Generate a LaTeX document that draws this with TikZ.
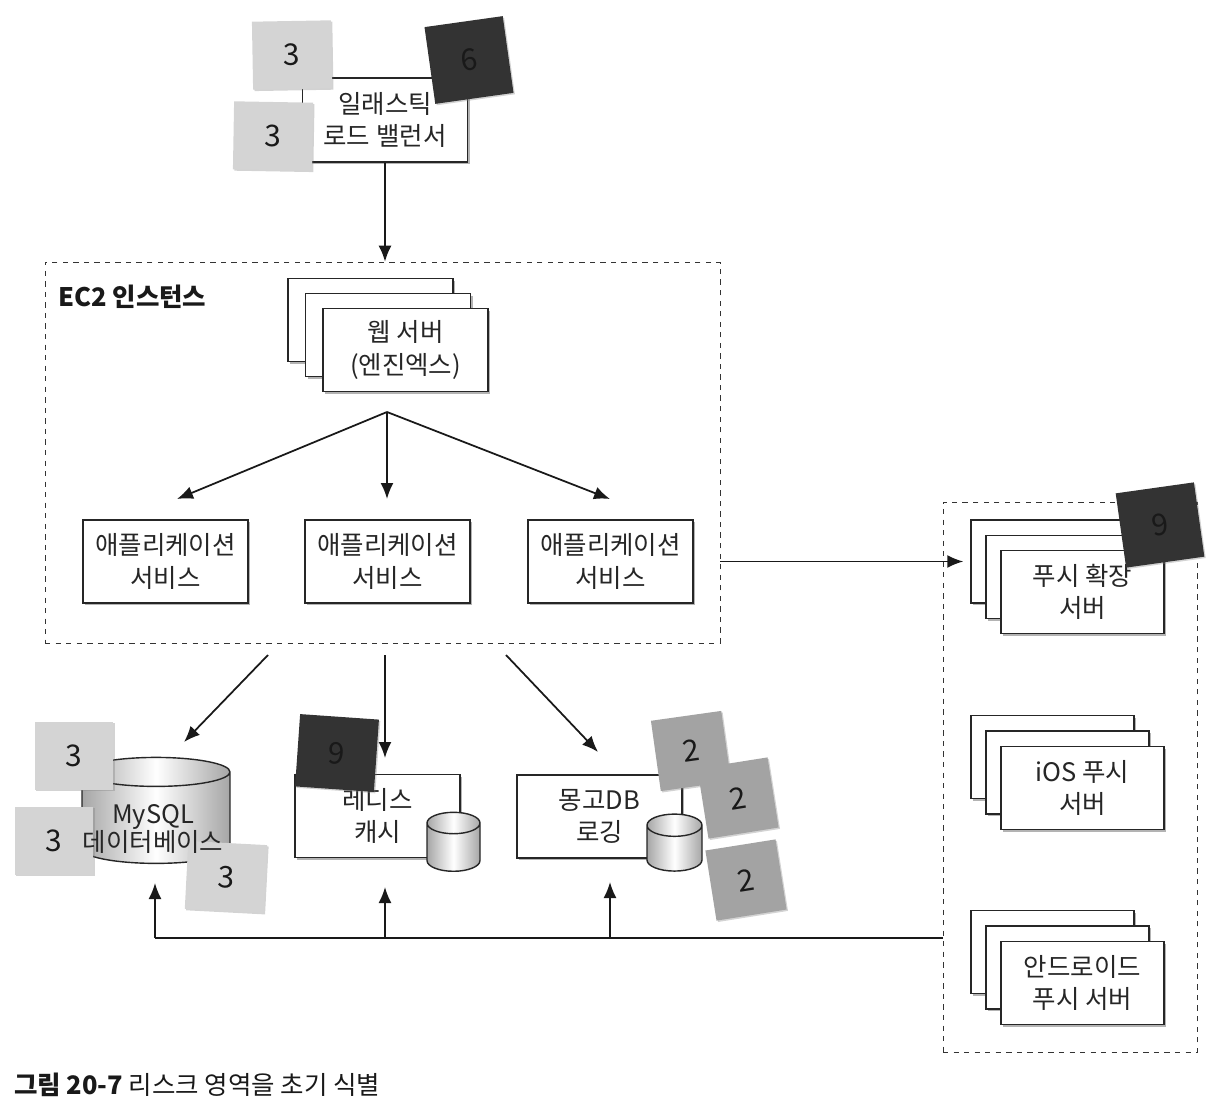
\documentclass[tikz,border=0pt]{standalone}
\usepackage{fontspec}
\setmainfont{Noto Sans CJK KR}
\usetikzlibrary{arrows.meta,shapes.geometric,shadows,positioning}

\tikzset{
  box/.style={draw=black!85, thick, fill=white, text=black!85, align=center,
    minimum width=3.3cm, minimum height=1.66cm, inner sep=1pt,
    font=\fontsize{14.5}{18.5}\selectfont,
    drop shadow={shadow xshift=1.2pt, shadow yshift=-1.2pt, opacity=.6}},
  group/.style={draw=black!80, dashed, thin},
  note/.style={minimum width=1.58cm, minimum height=1.36cm, inner sep=0pt,
    font=\fontsize{17}{17}\selectfont, text=black!90,
    drop shadow={shadow xshift=.8pt, shadow yshift=-.8pt, opacity=.35}},
  lightnote/.style={note, fill=black!17},
  midnote/.style={note, fill=black!36},
  darknote/.style={note, fill=black!80},
  db/.style={cylinder, shape border rotate=90, draw=black!85, thick,
    left color=black!35, right color=black!35, middle color=white,
    inner sep=0pt},
  flow/.style={-{Latex[length=3.2mm,width=2.6mm]}, line width=1pt, draw=black!90},
}

\begin{document}
\begin{tikzpicture}[x=0.02cm, y=-0.02cm]
  \useasboundingbox (0,0) rectangle (1220,1104);

  % Load balancer
  \node[box, minimum height=1.68cm] (elb) at (385,120) {일래스틱\\로드 밸런서};
  \node[lightnote, rotate=1] (elbA) at (292,55) {3};
  \node[lightnote, rotate=-1] (elbB) at (273,136) {3};
  \node[darknote, rotate=8, minimum height=1.55cm] (elbC) at (469,60) {6};

  % EC2 group
  \node[group, minimum width=13.5cm, minimum height=7.62cm] (ec2) at (382.5,452.5) {};
  \node[anchor=west, font=\fontsize{14.5}{17}\selectfont\bfseries, text=black!90] (ec2lbl) at (52,297) {EC2 인스턴스};

  % Web servers
  \node[box] (web3) at (370.5,320) {};
  \node[box] (web2) at (388,335) {};
  \node[box] (web) at (405.5,350) {웹 서버\\(엔진엑스)};

  % Application services
  \node[box] (app1) at (165.5,561.5) {애플리케이션\\서비스};
  \node[box] (app2) at (387.5,561.5) {애플리케이션\\서비스};
  \node[box] (app3) at (610.5,561.5) {애플리케이션\\서비스};

  \coordinate (fork) at (387,412);
  \coordinate (toA1) at (177,499);
  \coordinate (toA2) at (387,499);
  \coordinate (toA3) at (610,499);
  \draw[flow] (fork) -- (toA1);
  \draw[flow] (fork) -- (toA2);
  \draw[flow] (fork) -- (toA3);
  \draw[flow] (elb) -- (elb |- ec2.north);

  % Data stores
  \node[db, minimum width=2.96cm, minimum height=2.12cm, aspect=0.2] (mysql) at (156,818) {\hspace*{2.9cm}};
  \node[box] (redis) at (377.5,816) {레디스\\캐시};
  \node[db, minimum width=1.06cm, minimum height=1.18cm, aspect=0.42] (rcyl) at (453.5,847.5) {\hspace*{1.02cm}};
  \node[box] (mongo) at (599.5,816.5) {몽고DB\\로깅};
  \node[db, minimum width=1.1cm, minimum height=1.14cm, aspect=0.42] (mcyl) at (674.5,848.5) {\hspace*{1.06cm}};

  \node[lightnote] (sqlA) at (74,756) {3};
  \node[lightnote] (sqlB) at (54,841) {3};
  \node[lightnote, rotate=-3] (sqlC) at (226,877) {3};
  \node[align=center, text=black!85, font=\fontsize{14.5}{16.5}\selectfont] (sqltxt) at (153,829) {MySQL\\데이터베이스};
  \node[darknote, rotate=-4, minimum height=1.45cm] (redA) at (337,753) {9};
  \node[midnote, rotate=8, minimum height=1.42cm, minimum width=1.42cm] (monA) at (691,751) {2};
  \node[midnote, rotate=9, minimum height=1.42cm, minimum width=1.42cm] (monB) at (738,798) {2};
  \node[midnote, rotate=9, minimum height=1.42cm, minimum width=1.42cm] (monC) at (746,880) {2};

  \coordinate (outA) at (268,655);
  \coordinate (outB) at (385,655);
  \coordinate (outC) at (506,655);
  \coordinate (inA) at (184,742);
  \coordinate (inB) at (385,758);
  \coordinate (inC) at (598,752);
  \draw[flow] (outA) -- (inA);
  \draw[flow] (outB) -- (inB);
  \draw[flow] (outC) -- (inC);

  % Push servers
  \node[group, minimum width=5.08cm, minimum height=11cm] (push) at (1070,777) {};
  \node[box, minimum width=3.26cm] (psh3) at (1052.5,561.5) {};
  \node[box, minimum width=3.26cm] (psh2) at (1067.5,577) {};
  \node[box, minimum width=3.26cm] (psh) at (1082.5,592) {푸시 확장\\서버};
  \node[box, minimum width=3.26cm] (ios3) at (1052.5,757) {};
  \node[box, minimum width=3.26cm] (ios2) at (1067.5,772.5) {};
  \node[box, minimum width=3.26cm] (ios) at (1082.5,788) {iOS 푸시\\서버};
  \node[box, minimum width=3.26cm] (and3) at (1052.5,952) {};
  \node[box, minimum width=3.26cm] (and2) at (1067.5,967.5) {};
  \node[box, minimum width=3.26cm] (and) at (1082.5,983) {안드로이드\\푸시 서버};
  \node[darknote, rotate=8, minimum height=1.5cm] (pshA) at (1160,525) {9};

  \draw[flow, shorten >=4pt] (psh3.west -| ec2.east) -- (psh3.west);

  % Bus back to the stores
  \coordinate (busA) at (155,938);
  \coordinate (busB) at (385,938);
  \coordinate (busC) at (610,938);
  \draw[line width=1pt, draw=black!90] (push.west |- busA) -- (busA);
  \draw[flow] (busA) -- ++(0,-55);
  \draw[flow] (busB) -- ++(0,-51);
  \draw[flow] (busC) -- ++(0,-56);

  % Caption
  \node[anchor=west, font=\fontsize{14.5}{17}\selectfont, text=black!90] (cap) at (8,1085) {\textbf{그림 20-7} 리스크 영역을 초기 식별};
\end{tikzpicture}
\end{document}
